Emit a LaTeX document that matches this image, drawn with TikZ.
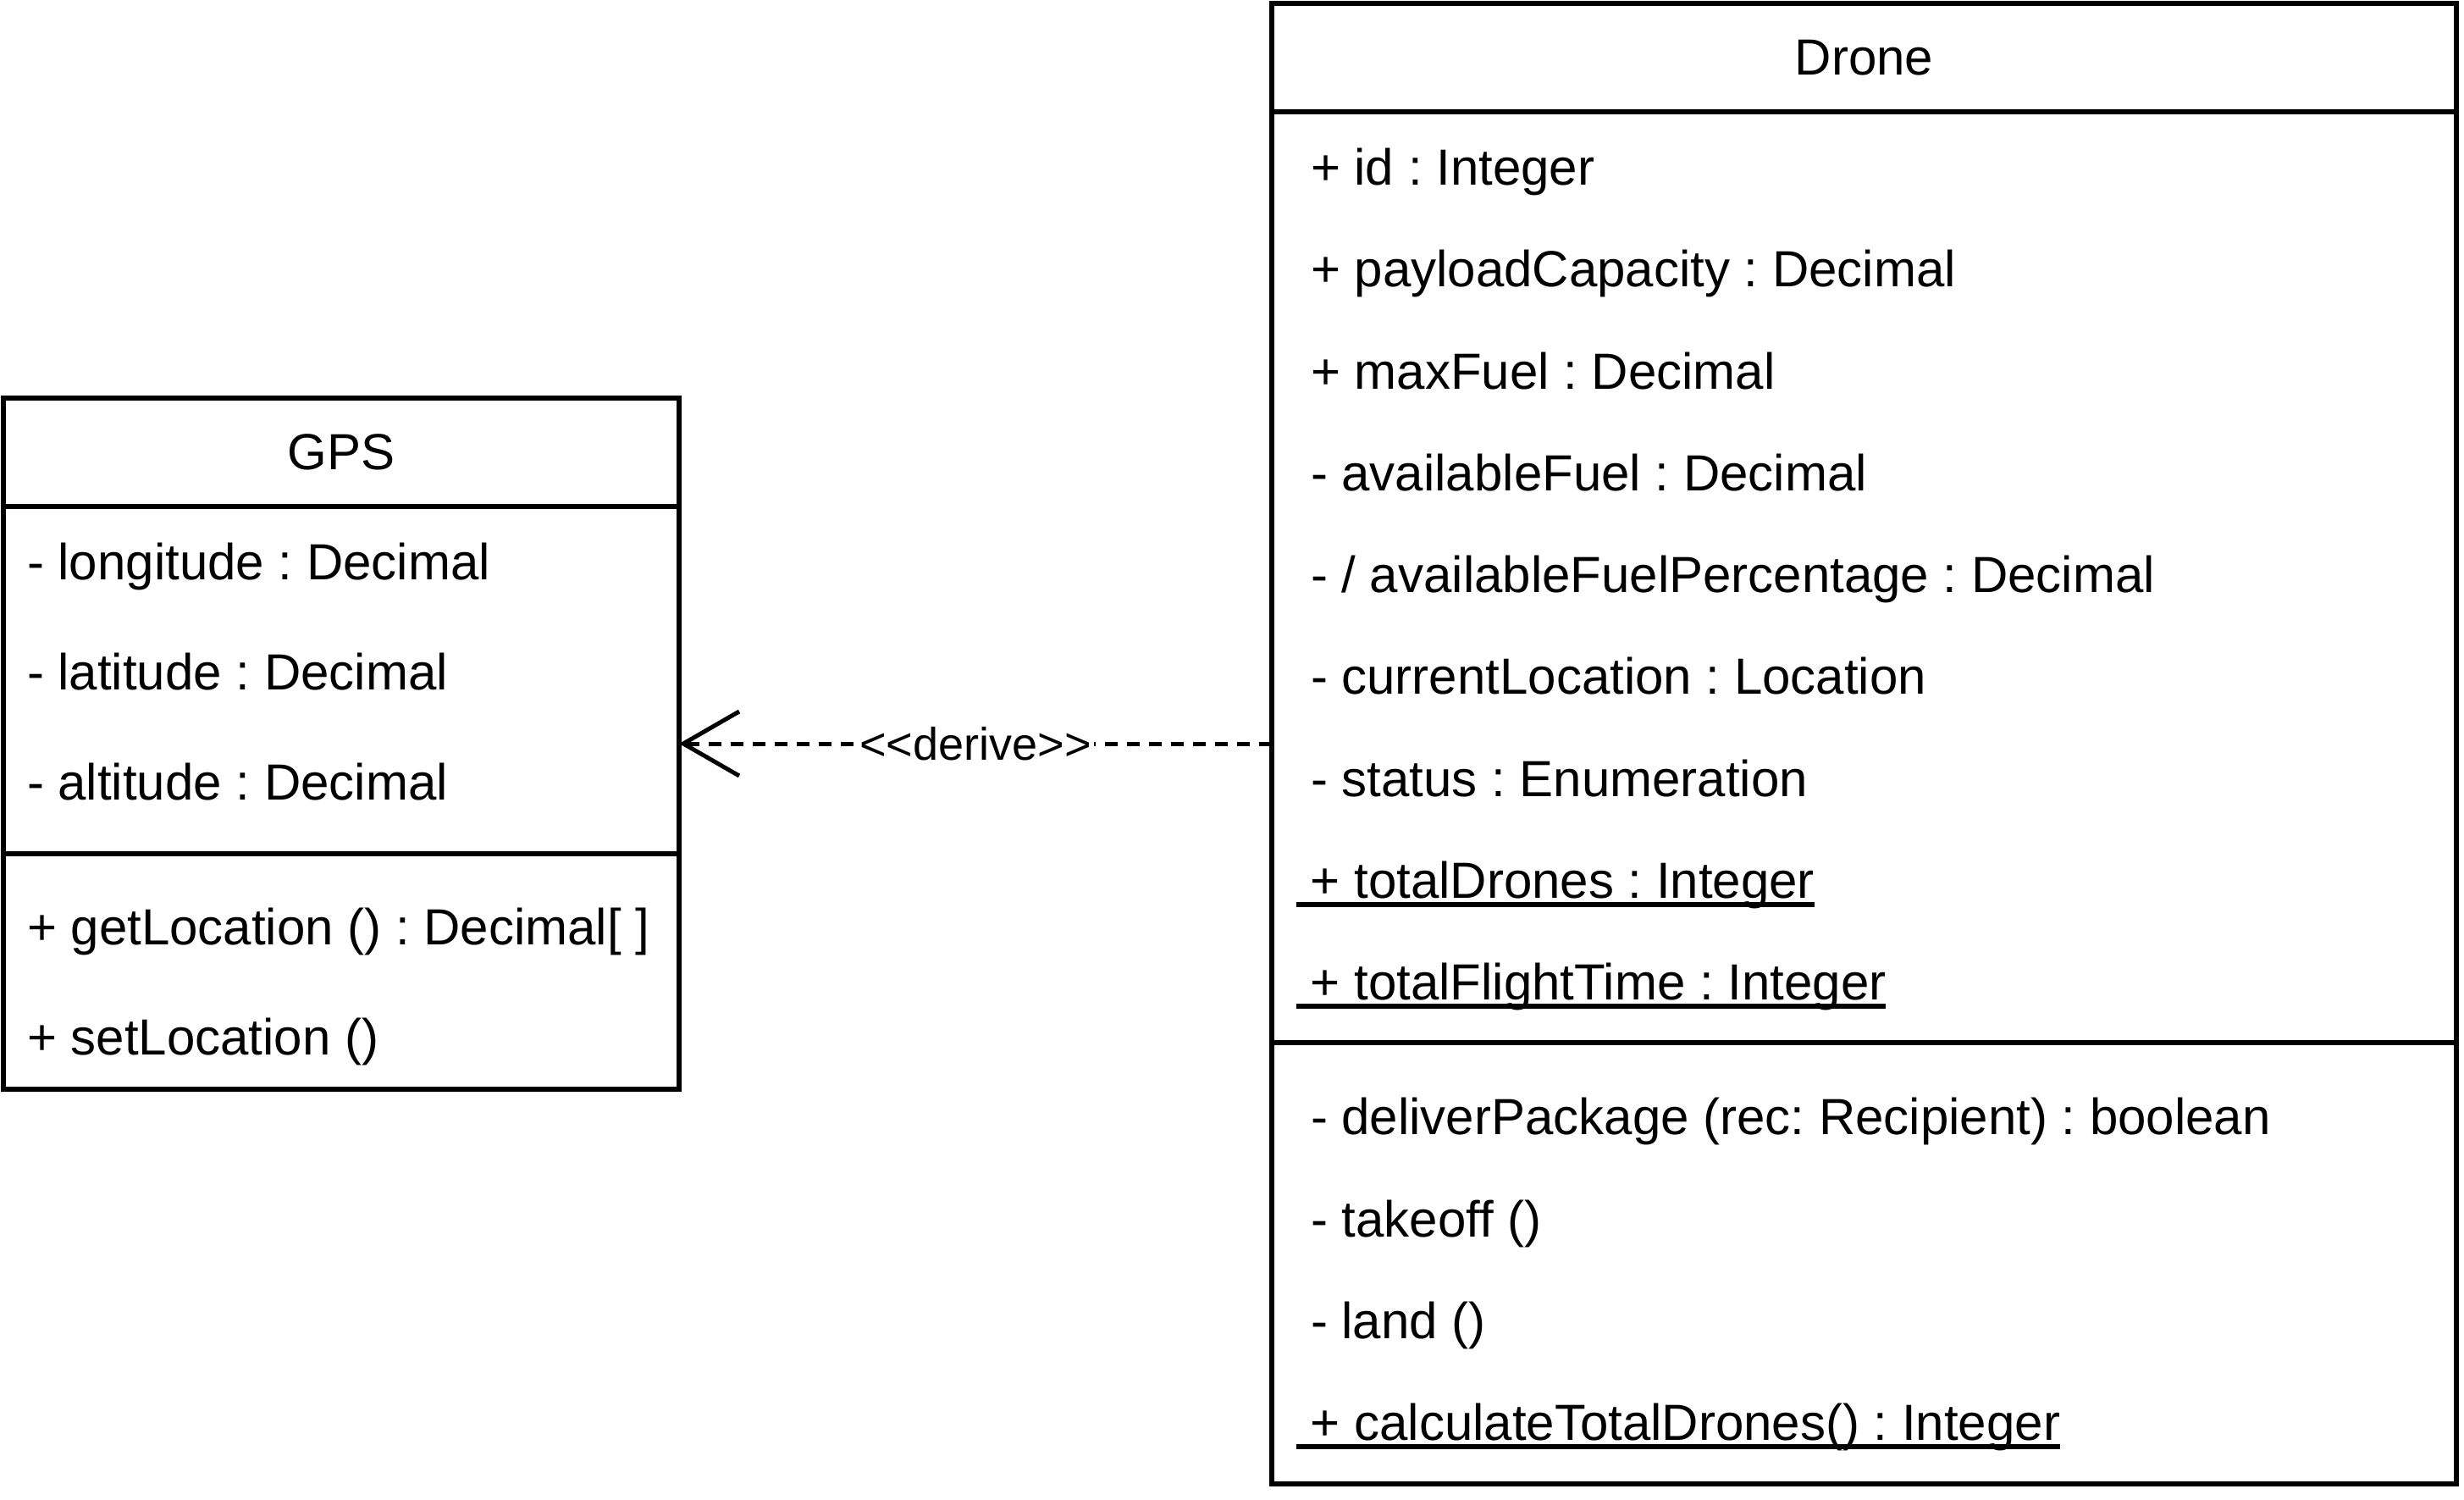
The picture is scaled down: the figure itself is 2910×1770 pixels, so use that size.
\documentclass[tikz,border=0pt]{standalone}
\usepackage{fontspec}
\newfontfamily\umlfont{Liberation Sans}
\usetikzlibrary{arrows.meta}
\frenchspacing
\begin{document}
\begin{tikzpicture}[x=1pt,y=-1pt,
  classbox/.style={draw=black, line width=5.5pt, inner sep=0pt, outer sep=0pt},
  sepline/.style={draw=black, line width=5.5pt},
  txt/.style={anchor=base west, inner sep=0pt, outer sep=0pt, font=\umlfont\fontsize{60}{72}\selectfont},
  ttl/.style={anchor=base, inner sep=0pt, outer sep=0pt, font=\umlfont\fontsize{60}{72}\selectfont},
  ulline/.style={draw=black, line width=5.5pt},
  dep/.style={draw=black, line width=5pt, dash pattern=on 15pt off 11pt, -{Straight Barb[length=66pt,width=76pt]}},
  lbl/.style={fill=white, inner sep=3pt, font=\umlfont\fontsize{54}{64}\selectfont}]
\useasboundingbox[fill=white] (0,0) rectangle (2910,1770);

% GPS class
\node[classbox, minimum width=798pt, minimum height=816pt] (gps) at (403,878) {};
\coordinate (gpsH) at (0,598);
\coordinate (gpsS) at (0,1008);
\draw[sepline] (gps.west |- gpsH) -- (gps.east |- gpsH);
\draw[sepline] (gps.west |- gpsS) -- (gps.east |- gpsS);
\node[ttl] (gpsname) at (403,554) {GPS};
\node[txt] (g1) at (32,684) {- longitude : Decimal};
\node[txt] (g2) at (32,814) {- latitude : Decimal};
\node[txt] (g3) at (32,944) {- altitude : Decimal};
\node[txt] (g4) at (32,1115) {+ getLocation () : Decimal[ ]};
\node[txt] (g5) at (32,1245) {+ setLocation ()};

% Drone class
\node[classbox, minimum width=1399pt, minimum height=1748pt] (drone) at (2201.5,878) {};
\coordinate (drH) at (0,132);
\coordinate (drS) at (0,1231);
\draw[sepline] (drone.west |- drH) -- (drone.east |- drH);
\draw[sepline] (drone.west |- drS) -- (drone.east |- drS);
\node[ttl] (dronename) at (2201.5,88) {Drone};
\node[txt] (d1) at (1548,218) {+ id : Integer};
\node[txt] (d2) at (1548,338) {+ payloadCapacity : Decimal};
\node[txt] (d3) at (1548,459) {+ maxFuel : Decimal};
\node[txt] (d4) at (1548,579) {- availableFuel : Decimal};
\node[txt] (d5) at (1548,699) {- / availableFuelPercentage : Decimal};
\node[txt] (d6) at (1548,819) {- currentLocation : Location};
\node[txt] (d7) at (1548,940) {- status : Enumeration};
\node[txt] (d8) at (1531,1060) {\ + totalDrones : Integer};
\node[txt] (d9) at (1531,1180) {\ + totalFlightTime : Integer};
\draw[ulline] ([yshift=-8pt]d8.base west) -- ([yshift=-8pt]d8.base east);
\draw[ulline] ([yshift=-8pt]d9.base west) -- ([yshift=-8pt]d9.base east);
\node[txt] (m1) at (1548,1339) {- deliverPackage (rec: Recipient) : boolean};
\node[txt] (m2) at (1548,1460) {- takeoff ()};
\node[txt] (m3) at (1548,1580) {- land ()};
\node[txt] (m4) at (1531,1700) {\ + calculateTotalDrones() : Integer};
\draw[ulline] ([yshift=-8pt]m4.base west) -- ([yshift=-8pt]m4.base east);

% dependency
\draw[dep] (drone) -- (gps) node[lbl, midway] (deplabel) {<<derive>>};
\end{tikzpicture}
\end{document}
